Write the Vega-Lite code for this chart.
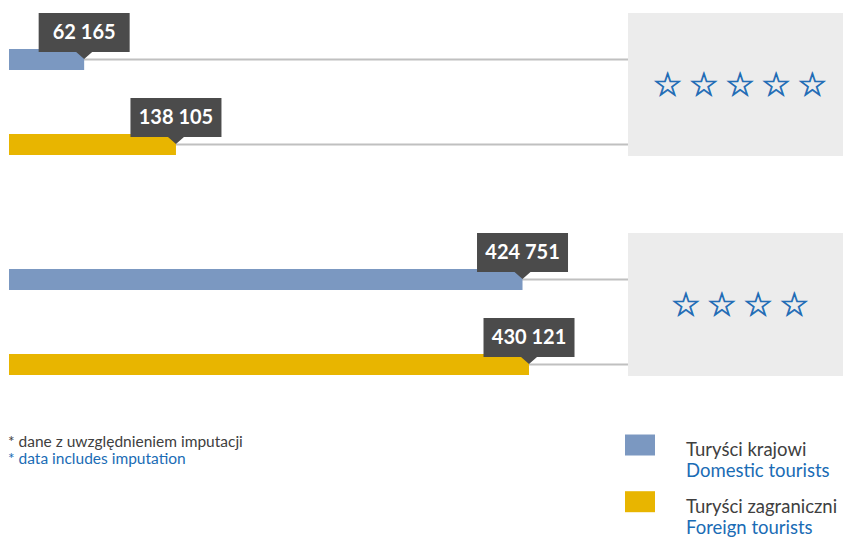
{
  "$schema": "https://vega.github.io/schema/vega-lite/v6.json",
  "width": 843,
  "height": 425,
  "autosize": "none",
  "padding": {"top": 0, "left": 0, "right": 0, "bottom": 112},
  "background": "white",
  "config": {
    "view": {"stroke": null},
    "locale": {"number": {"decimal": ",", "thousands": "\u00a0", "grouping": [3], "currency": ["", " zł"]}}
  },
  "title": {
    "text": "\u00a0* dane z uwzględnieniem imputacji",
    "subtitle": "* data includes imputation",
    "orient": "top",
    "anchor": "start",
    "frame": "group",
    "font": "Lato",
    "fontSize": 15.5,
    "fontWeight": "normal",
    "color": "#404040",
    "subtitleFont": "Lato",
    "subtitleFontSize": 15.5,
    "subtitleColor": "#1a6cb5",
    "subtitlePadding": 0.8,
    "offset": 0,
    "dx": 8,
    "dy": 467
  },
  "datasets": {
    "bars": [
      {"category": "5*", "series": "Turyści krajowi", "series_en": "Domestic tourists", "value": 62165},
      {"category": "5*", "series": "Turyści zagraniczni", "series_en": "Foreign tourists", "value": 138105},
      {"category": "4*", "series": "Turyści krajowi", "series_en": "Domestic tourists", "value": 424751},
      {"category": "4*", "series": "Turyści zagraniczni", "series_en": "Foreign tourists", "value": 430121}
    ],
    "categories": [
      {"category": "5*", "stars": "☆\u2009☆\u2009☆\u2009☆\u2009☆"},
      {"category": "4*", "stars": "☆\u2009☆\u2009☆\u2009☆"}
    ]
  },
  "encoding": {
    "y": {"field": "category", "type": "nominal", "axis": null,
          "scale": {"domain": ["5*", "4*"], "range": [13, 376], "paddingInner": 0.35, "paddingOuter": 0}}
  },
  "layer": [
    {
      "data": {"name": "categories"},
      "mark": {"type": "rect", "fill": "#ececec"},
      "encoding": {
        "x": {"datum": 512000, "type": "quantitative", "axis": null, "scale": {"domain": [0, 512000], "range": [9, 628], "nice": false, "zero": true}},
        "x2": {"datum": 700000}
      }
    },
    {
      "data": {"name": "bars"},
      "mark": {"type": "rule", "color": "#c0c0c0", "strokeWidth": 2},
      "encoding": {
        "x": {"datum": 0, "type": "quantitative"},
        "x2": {"datum": 512000},
        "yOffset": {"field": "series", "type": "nominal", "scale": {"domain": ["Turyści krajowi", "Turyści zagraniczni"], "range": [4, 174], "paddingInner": 0, "paddingOuter": 0}}
      }
    },
    {
      "data": {"name": "bars"},
      "mark": {"type": "bar", "height": 21},
      "encoding": {
        "x": {"field": "value", "type": "quantitative"},
        "yOffset": {"field": "series", "type": "nominal"},
        "color": {
          "field": "series", "type": "nominal",
          "scale": {"domain": ["Turyści krajowi", "Turyści zagraniczni"], "range": ["#7b98c1", "#e8b500"]},
          "legend": {
            "orient": "none", "legendX": 625, "legendY": 435, "title": null, "padding": 0,
            "symbolType": "M-1,-1.033H1V0.367H-1Z", "symbolSize": 900, "symbolStrokeWidth": 0, "symbolOpacity": 1,
            "labelFont": "Lato", "labelFontSize": 18.5, "labelColor": "#404040", "labelOffset": 31,
            "rowPadding": 30.7, "labelLimit": 300
          }
        },
        "stroke": {
          "field": "series_en", "type": "nominal",
          "scale": {"domain": ["Domestic tourists", "Foreign tourists"], "range": ["transparent", "transparent"]},
          "legend": {
            "orient": "none", "legendX": 625, "legendY": 456, "title": null, "padding": 0,
            "symbolType": "M-1,-1.033H1V0.367H-1Z", "symbolSize": 900, "symbolOpacity": 0, "symbolStrokeWidth": 0,
            "labelFont": "Lato", "labelFontSize": 18.5, "labelColor": "#1a6cb5", "labelOffset": 31,
            "rowPadding": 30.7, "labelLimit": 300
          }
        }
      }
    },
    {
      "data": {"name": "bars"},
      "mark": {"type": "point", "filled": true, "opacity": 1, "fill": "#4b4b4b", "strokeWidth": 0, "size": 400,
               "shape": "M-4.55,-4.65H4.55V-0.75H0.8L0,-0.05L-0.8,-0.75H-4.55Z"},
      "encoding": {
        "x": {"field": "value", "type": "quantitative"},
        "yOffset": {"field": "series", "type": "nominal"}
      }
    },
    {
      "data": {"name": "bars"},
      "mark": {"type": "text", "color": "white", "font": "Lato", "fontWeight": "bold", "fontSize": 20, "dy": -27, "baseline": "middle", "align": "center"},
      "encoding": {
        "x": {"field": "value", "type": "quantitative"},
        "yOffset": {"field": "series", "type": "nominal"},
        "text": {"field": "value", "type": "quantitative", "format": ",d"}
      }
    },
    {
      "data": {"name": "categories"},
      "mark": {"type": "text", "color": "#1b6ab5", "stroke": "#1b6ab5", "strokeWidth": 0.7, "font": "DejaVu Sans", "fontSize": 33, "baseline": "middle", "align": "center", "dy": 1},
      "encoding": {
        "x": {"datum": 604600, "type": "quantitative"},
        "text": {"field": "stars", "type": "nominal"}
      }
    }
  ]
}
